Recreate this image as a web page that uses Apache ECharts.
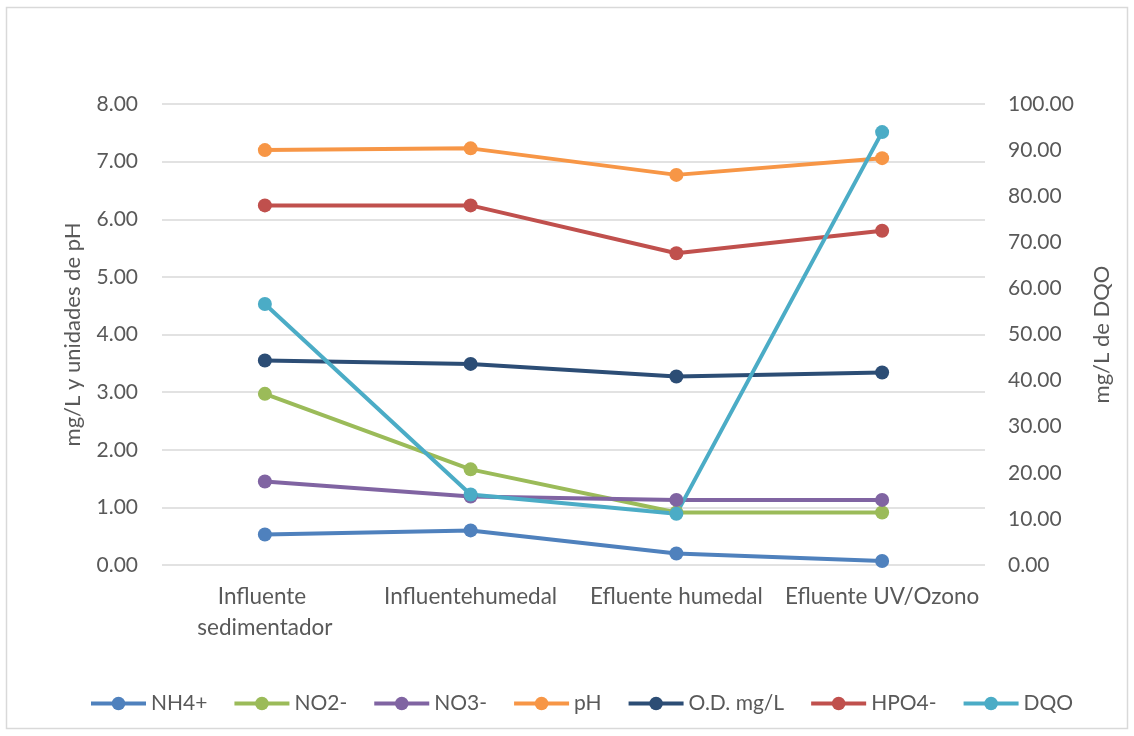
<!DOCTYPE html>
<html>
<head>
<meta charset="utf-8">
<script src="https://cdn.jsdelivr.net/npm/echarts@6/dist/echarts.min.js"></script>
<style>
  html, body { margin: 0; padding: 0; background: #fff; }
  #chart { width: 1134px; height: 736px; }
</style>
</head>
<body>
<div id="chart"></div>
<script>
// Sampling points along the treatment train
const categories = ['Influente sedimentador', 'Influentehumedal', 'Efluente humedal', 'Efluente UV/Ozono'];

// Left axis series (mg/L and pH units)
const nh4 = [0.53, 0.60, 0.20, 0.07];
const no2 = [2.97, 1.66, 0.91, 0.91];
const no3 = [1.45, 1.19, 1.13, 1.13];
const ph = [7.20, 7.23, 6.77, 7.06];
const od = [3.55, 3.49, 3.27, 3.34];
const hpo4 = [6.24, 6.24, 5.41, 5.80];

// Right axis series (mg/L COD)
const dqo = [56.6, 15.3, 11.1, 93.9];

const seriesNames = ['NH4+', 'NO2-', 'NO3-', 'pH', 'O.D. mg/L', 'HPO4-', 'DQO'];
const seriesColors = ['#4f81bd', '#9bbb59', '#8064a2', '#f79646', '#2c4d75', '#c0504d', '#4bacc6'];

const FONT = 'Lato, "Liberation Sans", sans-serif';
const TEXT_COLOR = '#595959';

function lineSeries(i, data, axisIndex) {
  return {
    name: seriesNames[i],
    type: 'line',
    yAxisIndex: axisIndex,
    data: data,
    symbol: 'circle',
    symbolSize: 14,
    color: seriesColors[i],
    lineStyle: { width: 4, color: seriesColors[i] },
    itemStyle: { color: seriesColors[i] },
    emphasis: { disabled: true },
    animation: false
  };
}

const chart = echarts.init(document.getElementById('chart'), null, { renderer: 'canvas' });

chart.setOption({
  backgroundColor: '#ffffff',
  animation: false,
  textStyle: { fontFamily: FONT },
  graphic: [{
    type: 'rect',
    shape: { x: 6.5, y: 7.5, width: 1121, height: 721 },
    style: { fill: 'none', stroke: '#d9d9d9', lineWidth: 1.5 },
    silent: true
  }],
  grid: { left: 162, right: 149, top: 104, bottom: 171 },
  legend: {
    left: 89,
    top: 693,
    padding: 0,
    itemWidth: 55,
    itemHeight: 17,
    itemGap: 25,
    data: seriesNames,
    itemStyle: { borderWidth: 0 },
    lineStyle: { width: 4 },
    textStyle: { fontFamily: FONT, fontSize: 21, color: TEXT_COLOR }
  },
  xAxis: {
    type: 'category',
    data: categories,
    boundaryGap: true,
    axisLine: { show: false },
    axisTick: { show: false },
    axisLabel: {
      interval: 0,
      margin: 16,
      width: 198,
      overflow: 'break',
      lineHeight: 31,
      fontFamily: FONT,
      fontSize: 22.5,
      color: TEXT_COLOR
    }
  },
  yAxis: [{
    type: 'value',
    min: 0,
    max: 8,
    interval: 1,
    name: 'mg/L y unidades de pH',
    nameLocation: 'middle',
    nameGap: 78,
    nameRotate: 90,
    nameTextStyle: { fontFamily: FONT, fontSize: 22, color: TEXT_COLOR },
    axisLine: { show: false },
    axisTick: { show: false },
    axisLabel: {
      margin: 24,
      fontFamily: FONT,
      fontSize: 21,
      color: TEXT_COLOR,
      formatter: v => v.toFixed(2)
    },
    splitLine: { lineStyle: { color: '#d9d9d9', width: 1.5 } }
  }, {
    type: 'value',
    min: 0,
    max: 100,
    interval: 10,
    position: 'right',
    name: 'mg/L de DQO',
    nameLocation: 'middle',
    nameGap: 106,
    nameRotate: 90,
    nameTextStyle: { fontFamily: FONT, fontSize: 22, color: TEXT_COLOR },
    axisLine: { show: false },
    axisTick: { show: false },
    axisLabel: {
      margin: 23,
      fontFamily: FONT,
      fontSize: 21,
      color: TEXT_COLOR,
      formatter: v => v.toFixed(2)
    },
    splitLine: { show: false }
  }],
  series: [
    lineSeries(0, nh4, 0),
    lineSeries(1, no2, 0),
    lineSeries(2, no3, 0),
    lineSeries(3, ph, 0),
    lineSeries(4, od, 0),
    lineSeries(5, hpo4, 0),
    lineSeries(6, dqo, 1)
  ]
});
</script>
</body>
</html>
